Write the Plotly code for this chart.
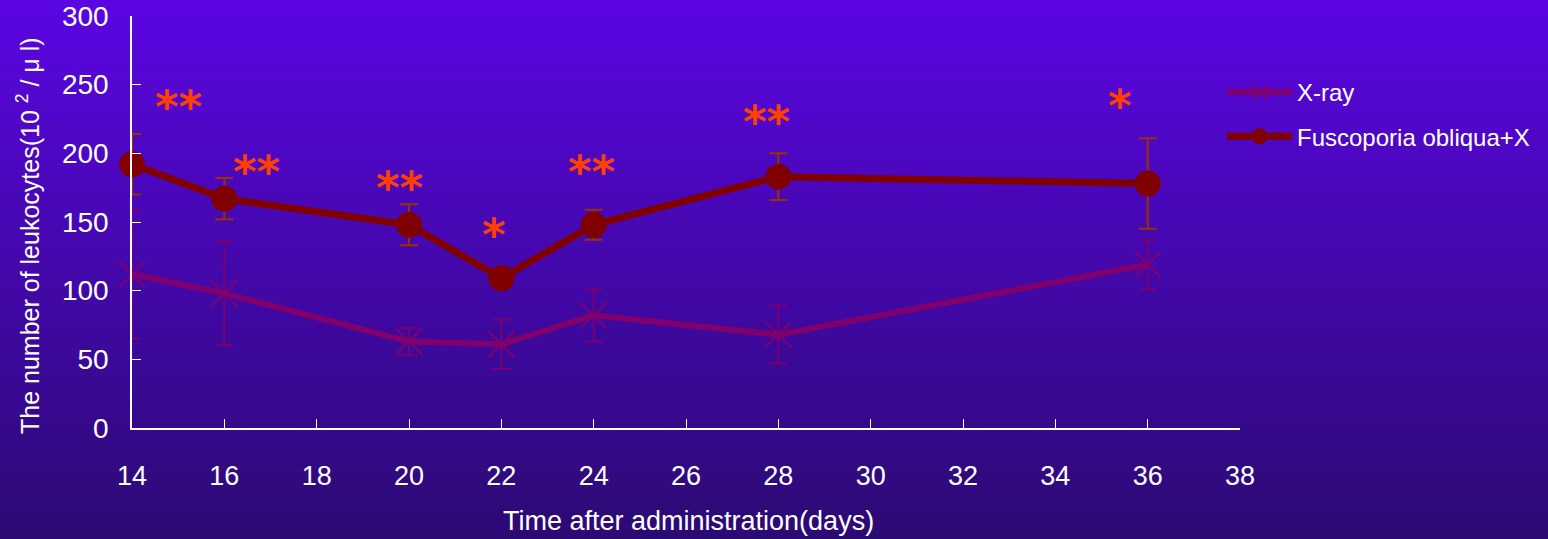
import plotly.graph_objects as go

# Leukocyte counts (x10^2 / μl) after administration
days = [14, 16, 20, 22, 24, 28, 36]

xray_mean = [112, 98, 63, 61, 82, 68, 119]
xray_err = [47, 38, 10, 18, 19, 21, 18]

fo_mean = [192, 167, 148, 109, 148, 183, 178]
fo_err = [22, 15, 15, 5, 11, 17, 33]

# Significance marks (label, x position in days, y position in value units)
sig_labels = ["**", "**", "**", "*", "**", "**", "*"]
sig_x = [15.0, 16.7, 19.8, 21.85, 23.95, 27.75, 35.4]
sig_y = [234, 187, 175, 141, 187, 223, 235]

x_ticks = list(range(14, 40, 2))
y_ticks = list(range(0, 350, 50))

W, H = 1548, 539
ML, MR, MT, MB = 132, 308, 16, 111
plot_w = W - ML - MR
plot_h = H - MT - MB

fig = go.Figure()

fig.add_trace(go.Scatter(
    x=days, y=xray_mean, name="X-ray", mode="lines+markers",
    legendgroup="xray", cliponaxis=False,
    line=dict(color="#80006e", width=6),
    marker=dict(symbol="x-thin-open", size=26,
                line=dict(color="#80006e", width=2)),
    error_y=dict(type="data", array=xray_err, visible=True,
                 color="#7a0070", thickness=2, width=9),
))

fig.add_trace(go.Scatter(
    x=days, y=fo_mean, name="Fuscoporia obliqua+X", mode="lines+markers",
    legendgroup="fo", cliponaxis=False,
    line=dict(color="#800000", width=7),
    marker=dict(symbol="circle", size=26, color="#800000",
                line=dict(width=0)),
    error_y=dict(type="data", array=fo_err, visible=True,
                 color="#963200", thickness=2, width=9),
))

for lab, sx, sy in zip(sig_labels, sig_x, sig_y):
    fig.add_annotation(
        x=sx, y=sy, text=f"<b>{lab}</b>", showarrow=False, xref="x", yref="y",
        font=dict(family="DejaVu Sans", size=45, color="#ff4000"),
        xanchor="center", yanchor="middle",
    )

# vertical gradient background built from thin horizontal bands
top = (91, 6, 226)
bottom = (44, 10, 116)
n_bands = 90
shapes = []
for i in range(n_bands):
    t = i / (n_bands - 1)
    r = round(top[0] + (bottom[0] - top[0]) * t)
    g = round(top[1] + (bottom[1] - top[1]) * t)
    b = round(top[2] + (bottom[2] - top[2]) * t)
    py0 = H * i / n_bands - 1
    py1 = H * (i + 1) / n_bands + 1
    shapes.append(dict(
        type="rect", xref="paper", yref="paper", layer="below",
        x0=(-2 - ML) / plot_w, x1=(W + 2 - ML) / plot_w,
        y0=(H - MB - py1) / plot_h, y1=(H - MB - py0) / plot_h,
        fillcolor=f"rgb({r},{g},{b})", line=dict(width=0),
    ))

fig.add_annotation(
    text="The number of leukocytes(10 <sup>2</sup> / μ l)",
    xref="paper", yref="paper",
    x=(28 - ML) / plot_w, y=(H - MB - 236) / plot_h,
    textangle=-90, showarrow=False, xanchor="center", yanchor="middle",
    font=dict(family="Liberation Sans", size=25, color="white"),
)
fig.add_annotation(
    text="Time after administration(days)",
    xref="paper", yref="paper",
    x=(688 - ML) / plot_w, y=(H - MB - 521) / plot_h,
    showarrow=False, xanchor="center", yanchor="middle",
    font=dict(family="Liberation Sans", size=27, color="white"),
)

fig.update_layout(
    width=W, height=H, autosize=False,
    margin=dict(l=ML, r=MR, t=MT, b=MB, autoexpand=False),
    paper_bgcolor="rgb(70,8,170)",
    plot_bgcolor="rgba(0,0,0,0)",
    shapes=shapes,
    showlegend=True,
    legend=dict(
        x=(1222 - ML) / plot_w, y=(H - MB - 70) / plot_h,
        xanchor="left", yanchor="top",
        bgcolor="rgba(0,0,0,0)", itemwidth=65,
        font=dict(family="Liberation Sans", size=24, color="white"),
        tracegroupgap=10,
    ),
    font=dict(family="Liberation Sans", color="white"),
)

fig.update_xaxes(
    range=[14, 38], tickvals=x_ticks, ticktext=[str(v) for v in x_ticks],
    showgrid=False, zeroline=False, showline=True, linecolor="white",
    linewidth=1.5, ticks="inside", ticklen=9, tickcolor="white", tickwidth=1,
    tickfont=dict(family="Liberation Sans", size=27, color="white"),
    ticklabelstandoff=23,
)
fig.update_yaxes(
    range=[0, 300], tickvals=y_ticks, ticktext=[str(v) for v in y_ticks],
    showgrid=False, zeroline=False, showline=True, linecolor="white",
    linewidth=1.5, ticks="inside", ticklen=9, tickcolor="white", tickwidth=1,
    tickfont=dict(family="Liberation Sans", size=28, color="white"),
    ticklabelstandoff=16,
)

fig.write_html("out.html")
